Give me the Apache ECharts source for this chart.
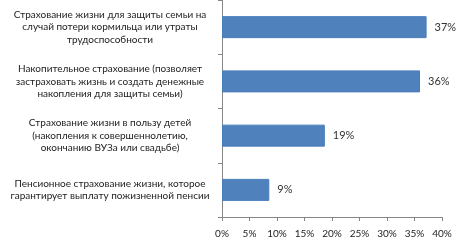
<!DOCTYPE html>
<html>
<head>
<meta charset="utf-8">
<script src="https://cdn.jsdelivr.net/npm/echarts@6/dist/echarts.min.js"></script>
<style>
  html, body { margin: 0; padding: 0; background: #fff; }
  #chart { width: 460px; height: 241px; }
</style>
</head>
<body>
<div id="chart"></div>
<script>
const categories = [
  'Страхование жизни для защиты семьи на\nслучай потери кормильца или утраты\nтрудоспособности',
  'Накопительное страхование (позволяет\nзастраховать жизнь и создать денежные\nнакопления для защиты семьи)',
  'Страхование жизни в пользу детей\n(накопления к совершеннолетию,\nокончанию ВУЗа или свадьбе)',
  'Пенсионное страхование жизни, которое\nгарантирует выплату пожизненной пенсии'
];
const values = [37.2, 36, 18.7, 8.6];
const valueLabels = ['37%', '36%', '19%', '9%'];

const chart = echarts.init(document.getElementById('chart'));
const option = {
  animation: false,
  textStyle: { fontFamily: 'Lato' },
  grid: { left: 222, right: 18, top: -3, height: 220 },
  xAxis: {
    type: 'value',
    min: 0,
    max: 40,
    interval: 5,
    axisLine: { show: true, lineStyle: { color: '#868686' } },
    axisTick: { show: true, length: 4, lineStyle: { color: '#868686' } },
    splitLine: { show: false },
    axisLabel: { formatter: '{value}%', color: '#222', fontSize: 10, margin: 12 }
  },
  yAxis: {
    type: 'category',
    inverse: true,
    data: categories,
    axisLine: { lineStyle: { color: '#868686' } },
    axisTick: { show: true, length: 4, lineStyle: { color: '#868686' } },
    axisLabel: {
      color: '#222',
      fontSize: 10,
      align: 'center',
      margin: 112,
      lineHeight: 12.5
    }
  },
  series: [{
    type: 'bar',
    data: values,
    barWidth: 22,
    itemStyle: { color: '#4F81BD', borderColor: '#4A7EBB', borderWidth: 1 },
    label: {
      show: true,
      position: 'right',
      distance: 8,
      color: '#333',
      fontSize: 11,
      formatter: p => valueLabels[p.dataIndex]
    }
  }]
};
chart.setOption(option);
</script>
</body>
</html>
